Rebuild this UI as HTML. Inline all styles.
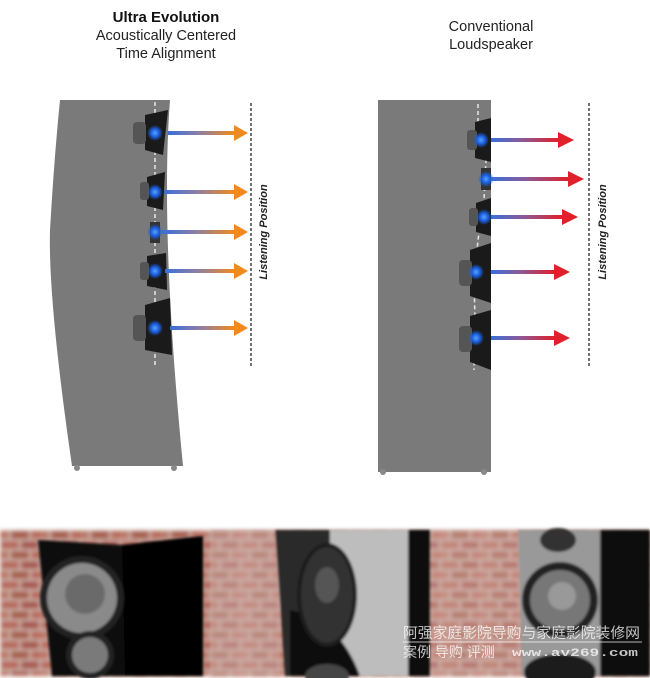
<!DOCTYPE html>
<html><head><meta charset="utf-8"><style>
html,body{margin:0;padding:0;background:#fff;}
body{width:650px;height:678px;overflow:hidden;position:relative;font-family:"Liberation Sans",sans-serif;}
svg{position:absolute;left:0;top:0;}
</style></head><body>
<svg width="650" height="678" viewBox="0 0 650 678" xmlns="http://www.w3.org/2000/svg">
<defs>
<linearGradient id="go" x1="0" x2="1"><stop offset="0" stop-color="#3a6fd8"/><stop offset="0.45" stop-color="#8a7ea8"/><stop offset="1" stop-color="#f08a20"/></linearGradient>
<linearGradient id="gr" x1="0" x2="1"><stop offset="0" stop-color="#3a6fd8"/><stop offset="0.45" stop-color="#8a5a9a"/><stop offset="1" stop-color="#e0202a"/></linearGradient>
<radialGradient id="bd"><stop offset="0" stop-color="#5aa0ff"/><stop offset="0.5" stop-color="#1a60e0"/><stop offset="1" stop-color="#1a60e0" stop-opacity="0"/></radialGradient>
<pattern id="brick" width="40" height="20" patternUnits="userSpaceOnUse">
<rect width="40" height="20" fill="#cdb8b0"/>
<rect x="1" y="1" width="18" height="8" fill="#b86a5c"/><rect x="21" y="1" width="18" height="8" fill="#a85a50"/>
<rect x="-9" y="11" width="18" height="8" fill="#bc7868"/><rect x="11" y="11" width="18" height="8" fill="#a86050"/><rect x="31" y="11" width="18" height="8" fill="#b86a5c"/>
</pattern>
<filter id="bl"><feGaussianBlur stdDeviation="1.2"/></filter>
<filter id="bl2"><feGaussianBlur stdDeviation="2"/></filter>
</defs>

<text x="166" y="22" text-anchor="middle" font-size="15" font-weight="bold" fill="#111">Ultra Evolution</text>
<text x="166" y="40" text-anchor="middle" font-size="14.5" fill="#222">Acoustically Centered</text>
<text x="166" y="58" text-anchor="middle" font-size="14.5" fill="#222">Time Alignment</text>
<text x="491" y="31" text-anchor="middle" font-size="14.5" fill="#222">Conventional</text>
<text x="491" y="49" text-anchor="middle" font-size="14.5" fill="#222">Loudspeaker</text>

<path d="M60,100 L170,100 Q160,230 183,466 L72,466 Q48,300 50,230 Q54,160 60,100 Z" fill="#7a7a7a"/>
<circle cx="77" cy="468" r="3" fill="#888"/><circle cx="174" cy="468" r="3" fill="#888"/>
<line x1="155" y1="102" x2="155" y2="365" stroke="#e8e8e8" stroke-width="1.5" stroke-dasharray="4,3"/>
<g>
<path d="M145,115 L168,110 L163,155 L145,150 Z" fill="#1a1a1a"/><rect x="133" y="122" width="13" height="22" rx="4" fill="#555"/>
<path d="M147,177 L165,172 L163,210 L147,206 Z" fill="#1a1a1a"/><rect x="140" y="182" width="9" height="18" rx="3" fill="#555"/>
<path d="M150,222 L160,222 L160,243 L150,243 Z" fill="#333"/>
<path d="M147,256 L166,253 L167,290 L147,286 Z" fill="#1a1a1a"/><rect x="140" y="262" width="9" height="18" rx="3" fill="#555"/>
<path d="M145,305 L170,298 L172,355 L145,350 Z" fill="#1a1a1a"/><rect x="133" y="315" width="13" height="26" rx="4" fill="#555"/>
</g>
<g fill="url(#bd)"><circle cx="155" cy="133" r="8"/><circle cx="155" cy="192" r="8"/><circle cx="155" cy="232" r="8"/><circle cx="155" cy="271" r="8"/><circle cx="155" cy="328" r="8"/></g>
<g>
<rect x="168" y="131" width="66" height="4" fill="url(#go)"/><polygon points="234,125 248,133 234,141" fill="#f08a20"/>
<rect x="164" y="190" width="70" height="4" fill="url(#go)"/><polygon points="234,184 248,192 234,200" fill="#f08a20"/>
<rect x="162" y="230" width="72" height="4" fill="url(#go)"/><polygon points="234,224 248,232 234,240" fill="#f08a20"/>
<rect x="165" y="269" width="69" height="4" fill="url(#go)"/><polygon points="234,263 248,271 234,279" fill="#f08a20"/>
<rect x="170" y="326" width="64" height="4" fill="url(#go)"/><polygon points="234,320 248,328 234,336" fill="#f08a20"/>
</g>
<line x1="251" y1="103" x2="251" y2="366" stroke="#222" stroke-width="1.3" stroke-dasharray="3,2"/>
<text transform="translate(267,232) rotate(-90)" text-anchor="middle" font-size="11" font-style="italic" font-weight="bold" fill="#222">Listening Position</text>

<rect x="378" y="100" width="113" height="372" fill="#7a7a7a"/>
<circle cx="383" cy="472" r="3" fill="#888"/><circle cx="484" cy="472" r="3" fill="#888"/>
<path d="M478,104 L478,125 L486,160 L484,200 L478,240 L474,280 L475,320 L474,370" fill="none" stroke="#e8e8e8" stroke-width="1.5" stroke-dasharray="4,3"/>
<g>
<path d="M475,122 L491,118 L491,162 L475,158 Z" fill="#1a1a1a"/><rect x="467" y="130" width="10" height="20" rx="3" fill="#555"/>
<rect x="481" y="168" width="10" height="22" fill="#333"/>
<path d="M476,203 L491,198 L491,236 L476,232 Z" fill="#1a1a1a"/><rect x="469" y="208" width="9" height="18" rx="3" fill="#555"/>
<path d="M470,250 L491,243 L491,303 L470,296 Z" fill="#1a1a1a"/><rect x="459" y="260" width="13" height="26" rx="4" fill="#555"/>
<path d="M470,316 L491,310 L491,370 L470,362 Z" fill="#1a1a1a"/><rect x="459" y="326" width="13" height="26" rx="4" fill="#555"/>
</g>
<g fill="url(#bd)"><circle cx="481" cy="140" r="8"/><circle cx="486" cy="179" r="8"/><circle cx="484" cy="217" r="8"/><circle cx="476" cy="272" r="8"/><circle cx="476" cy="338" r="8"/></g>
<g>
<rect x="491" y="138" width="67" height="4" fill="url(#gr)"/><polygon points="558,132 574,140 558,148" fill="#e0202a"/>
<rect x="491" y="177" width="77" height="4" fill="url(#gr)"/><polygon points="568,171 584,179 568,187" fill="#e0202a"/>
<rect x="491" y="215" width="71" height="4" fill="url(#gr)"/><polygon points="562,209 578,217 562,225" fill="#e0202a"/>
<rect x="491" y="270" width="63" height="4" fill="url(#gr)"/><polygon points="554,264 570,272 554,280" fill="#e0202a"/>
<rect x="491" y="336" width="63" height="4" fill="url(#gr)"/><polygon points="554,330 570,338 554,346" fill="#e0202a"/>
</g>
<line x1="589" y1="103" x2="589" y2="366" stroke="#222" stroke-width="1.3" stroke-dasharray="3,2"/>
<text transform="translate(606,232) rotate(-90)" text-anchor="middle" font-size="11" font-style="italic" font-weight="bold" fill="#222">Listening Position</text>

<g>
<rect x="0" y="530" width="650" height="146" fill="url(#brick)" filter="url(#bl2)"/>
<g filter="url(#bl)">
<path d="M38,540 L122,545 L203,536 L203,676 L52,676 Z" fill="#0c0c0c"/>
<path d="M122,545 L203,536 L203,676 L125,676 Z" fill="#050505"/>
<circle cx="82" cy="598" r="42" fill="#222"/><circle cx="82" cy="598" r="35" fill="#8a8a8a"/><circle cx="85" cy="594" r="20" fill="#6a6a6a"/>
<circle cx="90" cy="655" r="24" fill="#222"/><circle cx="90" cy="655" r="18" fill="#7a7a7a"/>
</g>
<g filter="url(#bl)">
<rect x="210" y="530" width="70" height="146" fill="#d0b0a8" opacity="0.5"/>
<path d="M275,530 L335,530 L335,676 L285,676 Z" fill="#2a2a2a"/>
<path d="M330,530 L408,530 L410,676 L330,676 Z" fill="#bdbdbd"/>
<path d="M290,610 Q340,620 360,676 L290,676 Z" fill="#0a0a0a"/>
<rect x="408" y="530" width="22" height="146" fill="#111"/>
<ellipse cx="327" cy="595" rx="30" ry="52" fill="#1a1a1a"/><ellipse cx="327" cy="595" rx="26" ry="48" fill="#333"/>
<ellipse cx="327" cy="585" rx="12" ry="18" fill="#555"/>
<ellipse cx="327" cy="676" rx="22" ry="12" fill="#444"/>
</g>
<g filter="url(#bl)">
<rect x="430" y="530" width="90" height="146" fill="#d8b8b0" opacity="0.35"/>
<path d="M518,530 L605,530 L600,676 L522,676 Z" fill="#999"/>
<rect x="600" y="530" width="50" height="146" fill="#0a0a0a"/>
<circle cx="560" cy="600" r="38" fill="#222"/><circle cx="560" cy="600" r="30" fill="#777"/><circle cx="562" cy="596" r="14" fill="#999"/>
<ellipse cx="560" cy="672" rx="36" ry="18" fill="#1a1a1a"/>
<ellipse cx="558" cy="540" rx="18" ry="12" fill="#333"/>
</g>
<text x="403" y="638" font-size="14.5" fill="#fff" fill-opacity="0.75" font-family="'Liberation Sans','Noto Sans CJK SC',sans-serif" textLength="237" lengthAdjust="spacingAndGlyphs">阿强家庭影院导购与家庭影院装修网</text>
<line x1="403" y1="642" x2="642" y2="642" stroke="#fff" stroke-opacity="0.7"/>
<text x="403" y="657" font-size="14" fill="#fff" fill-opacity="0.75" font-family="'Liberation Sans','Noto Sans CJK SC',sans-serif">案例 导购 评测</text>
<text x="512" y="656" font-size="11" font-weight="bold" fill="#fff" fill-opacity="0.75" font-family="'Liberation Mono',monospace" textLength="126" lengthAdjust="spacingAndGlyphs">www.av269.com</text>
</g>
</svg>
</body></html>
